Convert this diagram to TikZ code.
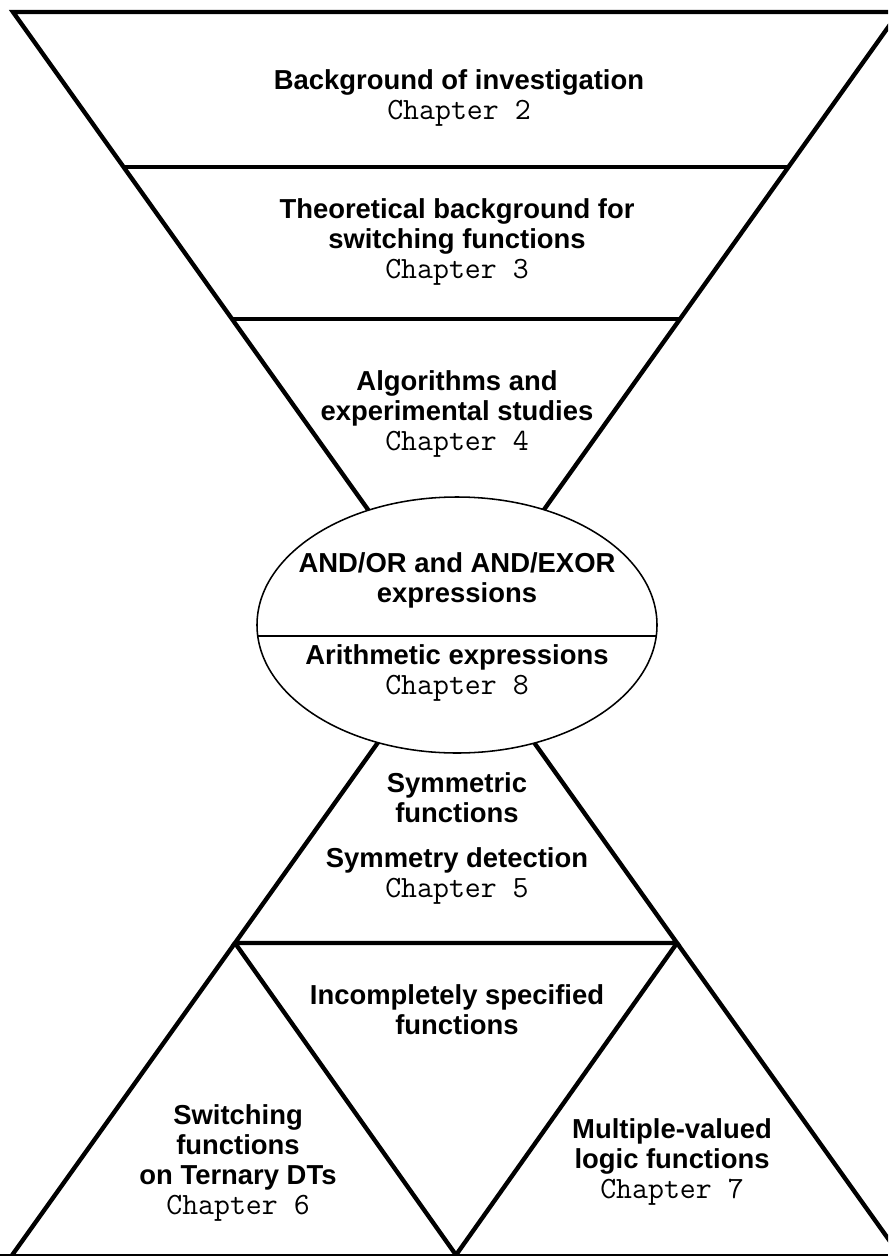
\documentclass[tikz,border=0pt]{standalone}
\usepackage{fontspec}
\setmainfont{Liberation Sans}
\newcommand{\chapno}[1]{{\ttfamily\mdseries\fontsize{22}{21.4}\selectfont Chapter #1}}

\begin{document}
\begin{tikzpicture}[x=0.025cm, y=-0.025cm,
  thickline/.style={line width=3.1pt},
  thinline/.style={line width=1.1pt},
  chaptext/.style={font=\fontsize{19.5}{21.4}\selectfont\bfseries, align=center, inner sep=0pt}]
\clip (0,0) rectangle (888,1256);
\coordinate (tl) at (13,12);
\coordinate (tr) at (899,12);
\coordinate (mid) at (456,633);
\coordinate (bl) at (235,943);
\coordinate (br) at (677,943);
\coordinate (bot) at (456,1255);
\draw[thickline] (mid) -- (tl) -- (tr) -- cycle;
\draw[thickline] (123.6,167) -- (788.4,167);
\draw[thickline] (232,319) -- (680,319);
\draw[thickline] (mid) -- (bl) -- (br) -- cycle;
\draw[thickline] (bl) -- (12.2,1255);
\draw[thickline] (br) -- (899.8,1255);
\draw[thickline] (bl) -- (bot) -- (br);
\draw[thinline] (0,1255) -- (888,1255);
\draw[thinline, fill = white] (457,625) ellipse [x radius = 200, y radius = 128];
\draw[thinline] (258.2,636) -- (656.8,636);
\node[chaptext] (bg) at (459,98) {Background of investigation\\\chapno{2}};
\node[chaptext] (theory) at (457,242) {Theoretical background for\\switching functions\\\chapno{3}};
\node[chaptext] (algo) at (457,414) {Algorithms and\\experimental studies\\\chapno{4}};
\node[chaptext] (andor) at (457,580) {AND/OR and AND/EXOR\\expressions};
\node[chaptext] (arith) at (457,673) {Arithmetic expressions\\\chapno{8}};
\node[chaptext] (symfun) at (457,798) {Symmetric\\functions};
\node[chaptext] (symdet) at (457,876) {Symmetry detection\\\chapno{5}};
\node[chaptext] (incompl) at (457,1010) {Incompletely specified\\functions};
\node[chaptext] (ternary) at (238,1163) {Switching\\functions\\on Ternary DTs\\\chapno{6}};
\node[chaptext] (mvl) at (672,1162) {Multiple-valued\\logic functions\\\chapno{7}};
\end{tikzpicture}
\end{document}
